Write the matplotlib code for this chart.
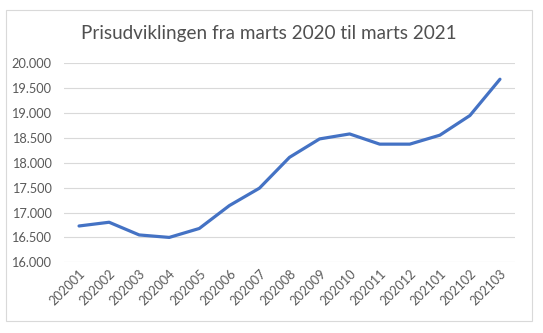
import matplotlib
matplotlib.use("Agg")
import matplotlib.pyplot as plt
from matplotlib.patches import Rectangle
from matplotlib.ticker import FuncFormatter

months = ["202001", "202002", "202003", "202004", "202005", "202006", "202007",
          "202008", "202009", "202010", "202011", "202012", "202101", "202102", "202103"]
prices = [16730, 16805, 16550, 16500, 16680, 17140, 17490,
          18110, 18480, 18580, 18375, 18375, 18555, 18950, 19680]
title = "Prisudviklingen fra marts 2020 til marts 2021"

plt.rcParams['font.family'] = ['Lato', 'DejaVu Sans']

fig = plt.figure(figsize=(5.43, 3.33), dpi=100)
fig.patch.set_facecolor("white")
fig.add_artist(Rectangle((6/543, 1-321/333), 526/543, 311/333, transform=fig.transFigure,
                         fill=False, edgecolor="#D9D9D9", linewidth=0.8))

ax = fig.add_axes([64/543, 1-262.3/333, 451/543, 199/333])
x = list(range(len(months)))
ax.plot(x, prices, color="#4472C4", linewidth=2.3, solid_capstyle="round", solid_joinstyle="round", zorder=3)
ax.set_xlim(-0.5, len(months) - 0.5)
ax.set_ylim(16000, 20000)
ax.set_yticks(range(16000, 20001, 500))
ax.yaxis.set_major_formatter(FuncFormatter(lambda v, p: f"{int(v):,}".replace(",", ".")))
ax.set_xticks(x)
ax.set_xticklabels(months, rotation=45, ha="right", rotation_mode="anchor")
ax.grid(axis="y", color="#D9D9D9", linewidth=0.8)
ax.set_axisbelow(True)
for s in ax.spines.values():
    s.set_visible(False)
ax.tick_params(axis="both", length=0, colors="#595959", labelsize=9.2)
ax.tick_params(axis="y", pad=9)
ax.tick_params(axis="x", pad=4)

fig.text(269/543, 1-33/333, title, ha="center", va="center", fontsize=13.6, color="#505050")

fig.savefig("out.png", dpi=100)
